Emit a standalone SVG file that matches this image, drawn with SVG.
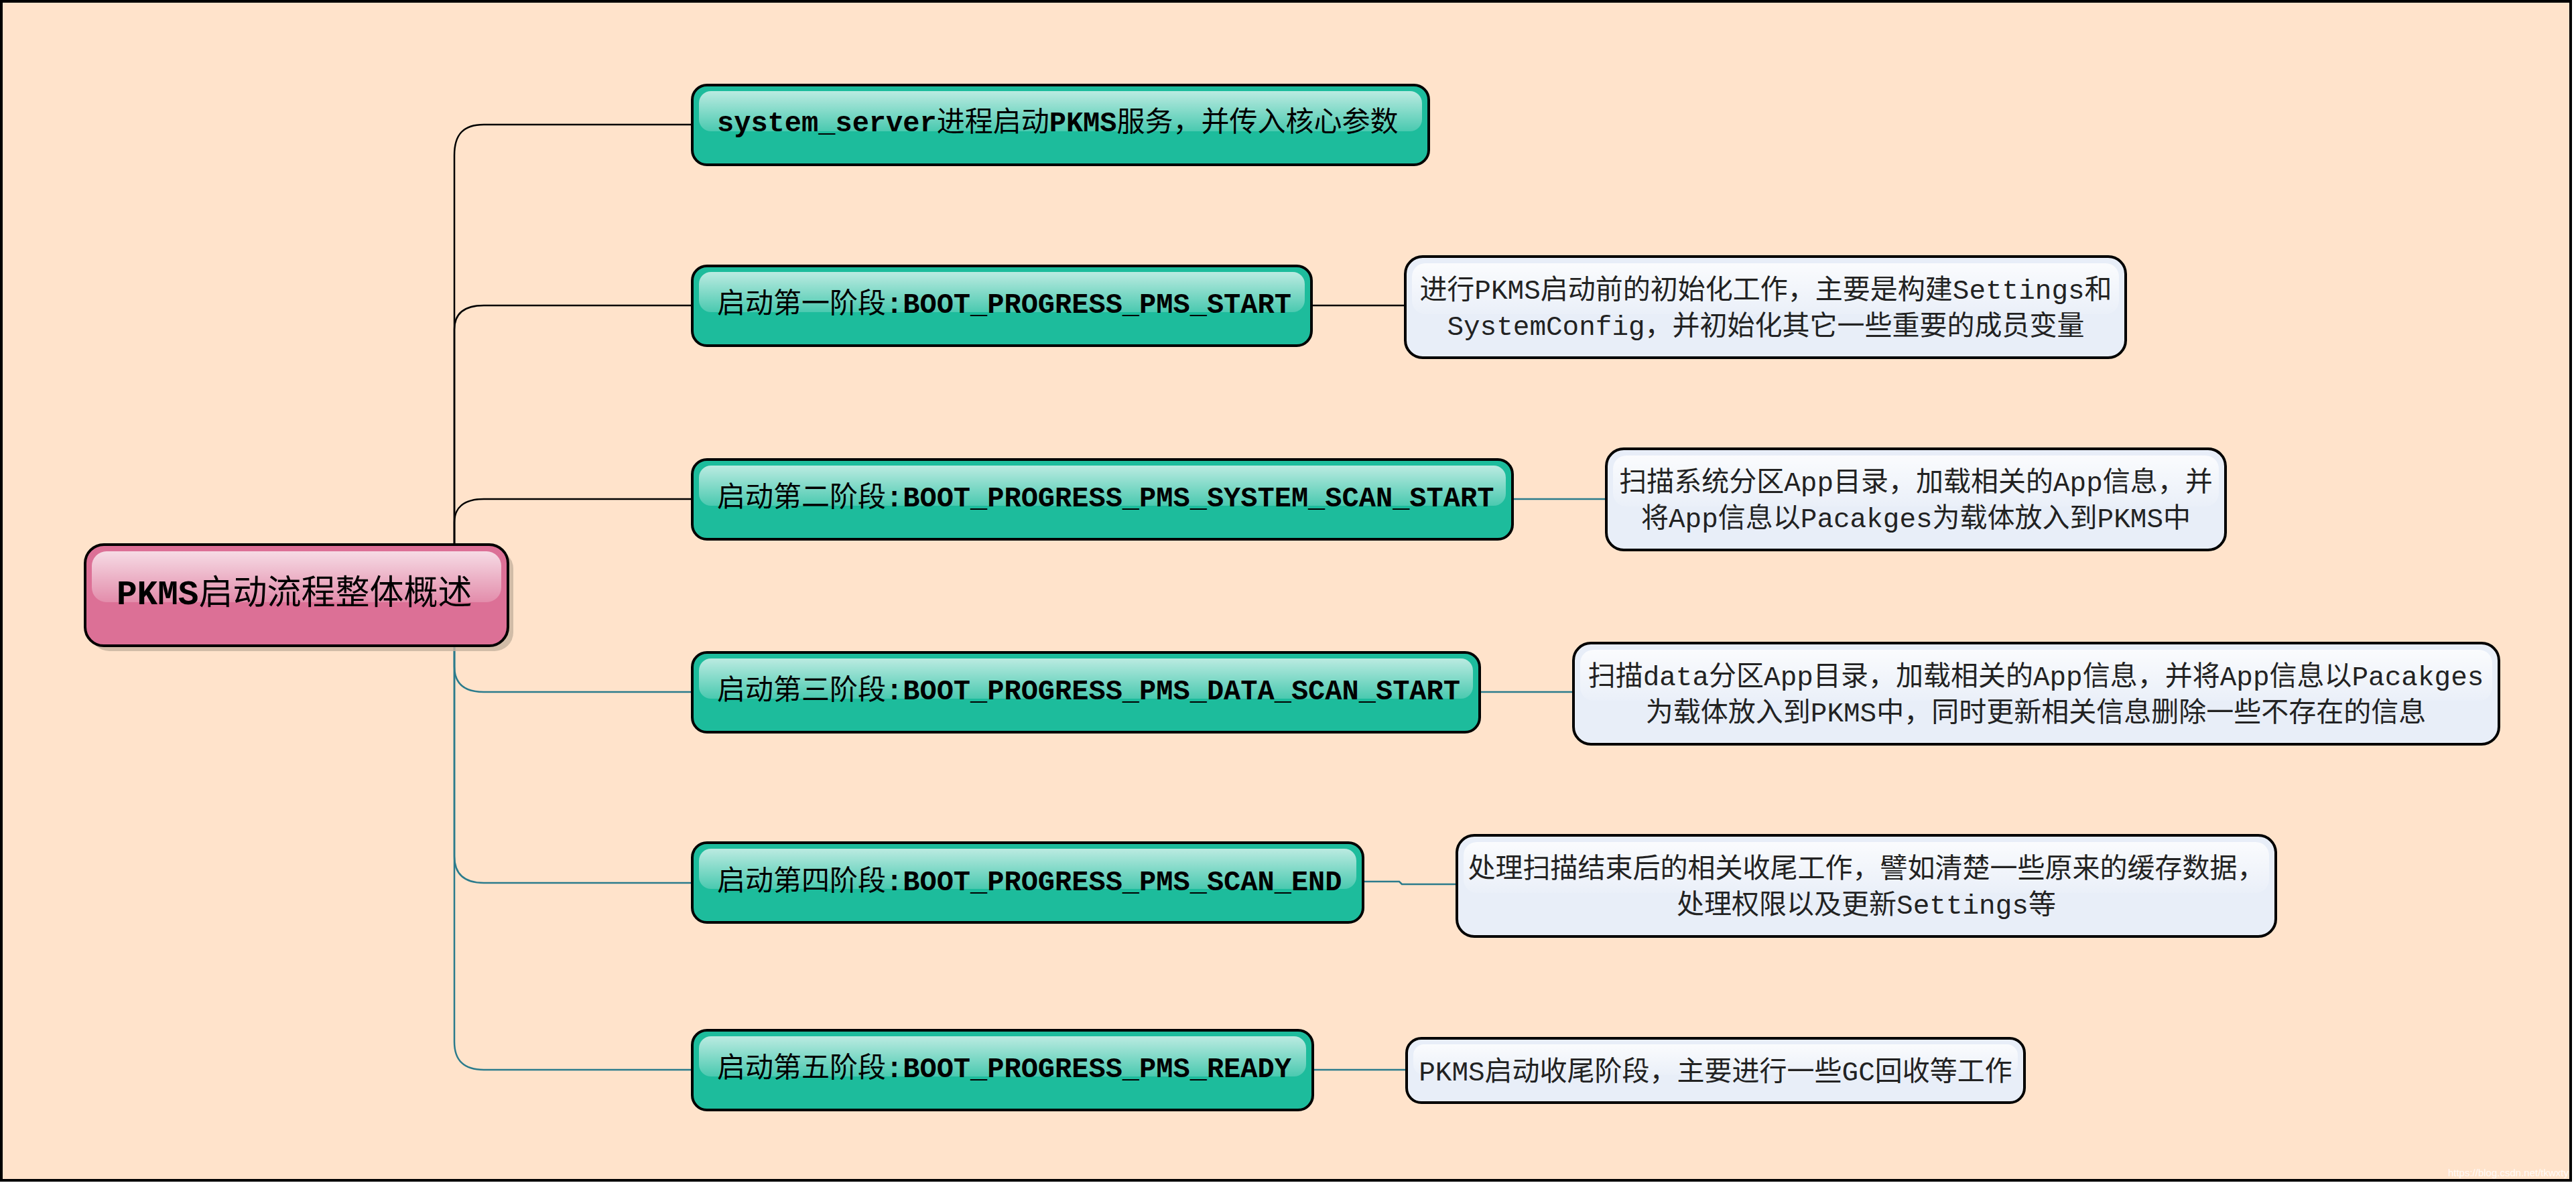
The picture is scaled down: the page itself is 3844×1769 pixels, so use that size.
<svg xmlns="http://www.w3.org/2000/svg" width="3844" height="1769" viewBox="0 0 3844 1769">
<defs>
<linearGradient id="glossTeal" x1="0" y1="0" x2="0" y2="1">
<stop offset="0" stop-color="#ffffff" stop-opacity="0.7"/>
<stop offset="1" stop-color="#ffffff" stop-opacity="0.2"/>
</linearGradient>
<linearGradient id="glossRoot" x1="0" y1="0" x2="0" y2="1">
<stop offset="0" stop-color="#ffffff" stop-opacity="0.75"/>
<stop offset="1" stop-color="#ffffff" stop-opacity="0.2"/>
</linearGradient>
<linearGradient id="glossDesc" x1="0" y1="0" x2="0" y2="1">
<stop offset="0" stop-color="#ffffff" stop-opacity="0.8"/>
<stop offset="1" stop-color="#ffffff" stop-opacity="0.1"/>
</linearGradient>
</defs>
<style>
.stage{fill:#1dbc9c;stroke:#000;stroke-width:4}
.root{fill:#dc7096;stroke:#000;stroke-width:4}
.desc{fill:#e8eef8;stroke:#000;stroke-width:4}
.gt{fill:url(#glossTeal)}
.gr{fill:url(#glossRoot)}
.gd{fill:url(#glossDesc)}
.shadow{fill:#c6b29e;opacity:0.8}
.t{font-family:'Liberation Mono','Noto Sans CJK SC',monospace;fill:#000}
.nt{font-size:42px}
.b{font-weight:bold}
.dt{font-size:41px;text-anchor:middle;fill:#222}
.rt{font-size:51px}
.cb{fill:none;stroke:#000;stroke-width:2.5}
.ct{fill:none;stroke:#2b7b8c;stroke-width:2.5}
</style>
<rect x="0" y="0" width="3844" height="1769" fill="#ffffff"/>
<rect x="2" y="2" width="3834" height="1760" fill="#ffe3cb" stroke="#000" stroke-width="4"/>
<text x="3833" y="1756" font-family="'Liberation Sans',Arial,sans-serif" font-size="15" fill="#ffffff" fill-opacity="0.85" text-anchor="end">https://blog.csdn.net/tkwxty</text>

<g id="connectors">
<path class="cb" d="M678,812 V232 C678,200 692,186 722,186 H1033"/>
<path class="cb" d="M678,812 V492 C678,468 692,456 722,456 H1033"/>
<path class="cb" d="M678,812 V780 C678,758 692,745 722,745 H1033"/>
<path class="ct" d="M678,964 V995 C678,1020 692,1033 722,1033 H1033"/>
<path class="ct" d="M678,964 V1278 C678,1304 692,1318 722,1318 H1033"/>
<path class="ct" d="M678,964 V1555 C678,1583 692,1597 722,1597 H1033"/>
<path class="cb" d="M1957,456 H2097"/>
<path class="ct" d="M2257,745 H2397"/>
<path class="ct" d="M2208,1033 H2348"/>
<path class="ct" d="M2034,1316 H2088 L2092,1320 H2174"/>
<path class="ct" d="M1959,1597 H2099"/>
</g>

<g id="root">
<rect class="shadow" x="135" y="821" width="631" height="151" rx="28"/>
<rect class="root" x="127" y="813" width="631" height="151" rx="28"/>
<rect class="gr" x="137" y="823" width="611" height="76" rx="22"/>
<text class="t rt" x="174" y="902"><tspan class="b">PKMS</tspan>启动流程整体概述</text>
</g>

<g id="node-system-server">
<rect class="stage" x="1033" y="127" width="1099" height="119" rx="22"/>
<rect class="gt" x="1043" y="136" width="1079" height="60" rx="18"/>
<text class="t nt" x="1070" y="196"><tspan class="b">system_server</tspan>进程启动<tspan class="b">PKMS</tspan>服务，并传入核心参数</text>
</g>

<g id="node-stage1">
<rect class="stage" x="1033" y="397" width="924" height="119" rx="22"/>
<rect class="gt" x="1043" y="406" width="904" height="60" rx="18"/>
<text class="t nt" x="1070" y="467">启动第一阶段<tspan class="b">:BOOT_PROGRESS_PMS_START</tspan></text>
</g>

<g id="node-stage2">
<rect class="stage" x="1033" y="686" width="1224" height="119" rx="22"/>
<rect class="gt" x="1043" y="695" width="1204" height="60" rx="18"/>
<text class="t nt" x="1070" y="756">启动第二阶段<tspan class="b">:BOOT_PROGRESS_PMS_SYSTEM_SCAN_START</tspan></text>
</g>

<g id="node-stage3">
<rect class="stage" x="1033" y="974" width="1175" height="119" rx="22"/>
<rect class="gt" x="1043" y="983" width="1155" height="60" rx="18"/>
<text class="t nt" x="1070" y="1044">启动第三阶段<tspan class="b">:BOOT_PROGRESS_PMS_DATA_SCAN_START</tspan></text>
</g>

<g id="node-stage4">
<rect class="stage" x="1033" y="1258" width="1001" height="119" rx="22"/>
<rect class="gt" x="1043" y="1267" width="981" height="60" rx="18"/>
<text class="t nt" x="1070" y="1329">启动第四阶段<tspan class="b">:BOOT_PROGRESS_PMS_SCAN_END</tspan></text>
</g>

<g id="node-stage5">
<rect class="stage" x="1033" y="1538" width="926" height="119" rx="22"/>
<rect class="gt" x="1043" y="1547" width="906" height="60" rx="18"/>
<text class="t nt" x="1070" y="1608">启动第五阶段<tspan class="b">:BOOT_PROGRESS_PMS_READY</tspan></text>
</g>

<g id="desc1">
<rect class="desc" x="2097" y="383" width="1075" height="151" rx="26"/>
<rect class="gd" x="2107" y="393" width="1055" height="76" rx="20"/>
<text class="t dt" x="2635" y="446">进行PKMS启动前的初始化工作，主要是构建Settings和</text>
<text class="t dt" x="2635" y="500">SystemConfig，并初始化其它一些重要的成员变量</text>
</g>

<g id="desc2">
<rect class="desc" x="2397" y="670" width="924" height="151" rx="26"/>
<rect class="gd" x="2407" y="680" width="904" height="76" rx="20"/>
<text class="t dt" x="2859" y="733">扫描系统分区App目录，加载相关的App信息，并</text>
<text class="t dt" x="2859" y="787">将App信息以Pacakges为载体放入到PKMS中</text>
</g>

<g id="desc3">
<rect class="desc" x="2348" y="960" width="1381" height="151" rx="26"/>
<rect class="gd" x="2358" y="970" width="1361" height="76" rx="20"/>
<text class="t dt" x="3038" y="1023">扫描data分区App目录，加载相关的App信息，并将App信息以Pacakges</text>
<text class="t dt" x="3038" y="1077">为载体放入到PKMS中，同时更新相关信息删除一些不存在的信息</text>
</g>

<g id="desc4">
<rect class="desc" x="2174" y="1247" width="1222" height="151" rx="26"/>
<rect class="gd" x="2184" y="1257" width="1202" height="76" rx="20"/>
<text class="t dt" x="2785" y="1310">处理扫描结束后的相关收尾工作，譬如清楚一些原来的缓存数据，</text>
<text class="t dt" x="2785" y="1364">处理权限以及更新Settings等</text>
</g>

<g id="desc5">
<rect class="desc" x="2099" y="1550" width="922" height="96" rx="22"/>
<rect class="gd" x="2109" y="1559" width="902" height="46" rx="16"/>
<text class="t dt" x="2560" y="1613">PKMS启动收尾阶段，主要进行一些GC回收等工作</text>
</g>
</svg>
